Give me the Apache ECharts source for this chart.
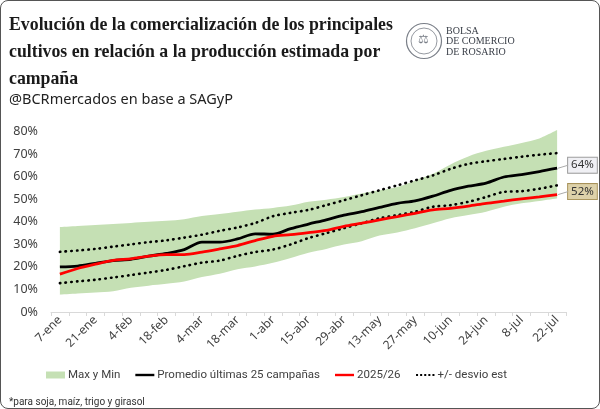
<!DOCTYPE html>
<html><head><meta charset="utf-8">
<script src="https://cdn.jsdelivr.net/npm/echarts@6/dist/echarts.min.js"></script>
<style>
html,body{margin:0;padding:0;background:#fff;}
#frame{position:absolute;left:0;top:0;width:598px;height:407px;border:1px solid #555;border-radius:8px;overflow:hidden;background:#fff;}
#c{width:598px;height:407px;}
</style></head>
<body><div id="frame"><div id="c"></div></div>
<script>
const categories = ['7-ene','14-ene','21-ene','28-ene','4-feb','11-feb','18-feb','25-feb','4-mar','11-mar','18-mar','25-mar','1-abr','8-abr','15-abr','22-abr','29-abr','6-may','13-may','20-may','27-may','3-jun','10-jun','17-jun','24-jun','1-jul','8-jul','15-jul','22-jul'];
const maxVals = [37.7,38.2,38.6,39,39.5,40,40.5,41.2,42.6,43.5,44.5,45.5,46.2,47.2,48.9,49.8,51,52.6,54,55.5,58.4,61.3,65.5,69,71.5,73.3,75,77,80.7];
const minVals = [7.7,8.2,8.7,9.2,10.8,11.7,12.5,13.5,15.5,17,19,20.2,21.8,24,26.3,28,29.9,31.4,33.9,35.3,37.2,39.4,41.6,43,44.5,46.7,48.2,49.3,50.4];
const meanVals = [20,20.4,21.6,22.8,23.4,24.8,26,27.7,31,31,32.4,34.7,34.5,37,39,40.9,43,44.5,46.4,48.2,49.3,51.4,54,55.8,57.2,59.9,61,62.3,63.8];
const currentVals = [16.8,19.3,21.2,22.9,23.6,24.8,25.5,25.5,26.6,28,29.5,31.7,33.6,34.3,35.2,36.2,38,39.4,40.9,42.3,43.8,45.3,46,47,48.2,49.2,50.2,51.1,52.1];
const upperVals = [26.7,27.3,28,29,30,31,31.8,33,34.3,36,37.5,39.5,42.5,44,45.3,47.4,49.6,51.8,54,56.2,58.4,60.6,63.5,65.7,66.9,67.9,68.9,69.8,70.5];
const lowerVals = [12.8,13.6,14.3,15.3,16.4,17.5,18.7,20.3,21.9,22.8,24.9,26.6,27.7,30,32.8,35,37.2,39.4,41.6,43,44.5,46.7,47.4,48.9,51,53.3,53.6,54.7,56.2];
const yTicks = {min:0, max:80, interval:10};

const bandDiff = maxVals.map((v,i)=> +(v - minVals[i]).toFixed(2));
const lastIdx = categories.length - 1;
function endLab(bg, border){
  return {show:true, distance:11, offset:[0,-3], formatter: p => Math.round(p.value)+'%',
    backgroundColor:bg, borderColor:border, borderWidth:1, padding:[2,3,1,3],
    color:'#333', fontSize:11.5, fontFamily:'Noto Sans'};
}
// legend icons: bounding box 19x7 (set by the two moveTo points), drawn shape in the middle
const solidIcon = 'path://M0,0M19,7M0,2.3H19V4.7H0Z';
const dotIcon = 'path://M0,0M19,7M0.5,2.5h2v2h-2zM4.6,2.5h2v2h-2zM8.7,2.5h2v2h-2zM12.8,2.5h2v2h-2zM16.9,2.5h2v2h-2z';
const chart = echarts.init(document.getElementById('c'));
const dotStyle = {color:'#000', width:2.6, type:[0.5,5.2], cap:'round'};
chart.setOption({
  animation:false,
  title:[{
    text:'Evolución de la comercialización de los principales\ncultivos en relación a la producción estimada por\ncampaña',
    left:3, top:6,
    textStyle:{fontFamily:'Liberation Serif', fontWeight:'bold', fontSize:17.8, lineHeight:27, color:'#1a1a1a'}
  },{
    text:'@BCRmercados en base a SAGyP', left:3, top:86,
    textStyle:{fontFamily:'Noto Sans', fontWeight:'normal', fontSize:14.5, color:'#222'}
  },{
    text:'*para soja, maíz, trigo y girasol', left:3, top:391,
    textStyle:{fontFamily:'Roboto', fontWeight:'normal', fontSize:10, color:'#333'}
  }],
  graphic:[
    {type:'circle', shape:{cx:423, cy:40, r:17.5}, style:{fill:'#fff', stroke:'#7a7f88', lineWidth:1.2}},
    {type:'circle', shape:{cx:423, cy:40, r:13}, style:{fill:'none', stroke:'#7a7f88', lineWidth:0.8}},
    {type:'text', left:417, top:33, style:{text:'⚖', fill:'#7a7f88', font:'12px DejaVu Sans'}},
    {type:'text', left:445, top:25, style:{text:'BOLSA\nDE COMERCIO\nDE ROSARIO', fill:'#3a3f48', font:'10px Liberation Serif', lineHeight:10.5}}
  ],
  grid:{left:50, right:33, top:130.7, bottom:96, containLabel:false},
  legend:{
    bottom:22, left:40, itemGap:15, itemWidth:19, itemHeight:7,
    textStyle:{fontFamily:'Roboto', fontSize:11.5, color:'#404040', padding:[0,0,0,-2]},
    data:[
      {name:'Max y Min', icon:'rect', itemStyle:{color:'#c5e0b4'}},
      {name:'Promedio últimas 25 campañas', icon:solidIcon, itemStyle:{color:'#000'}},
      {name:'2025/26', icon:solidIcon, itemStyle:{color:'#ff0000'}},
      {name:'+/- desvio est', icon:dotIcon, itemStyle:{color:'#000'}}
    ]
  },
  xAxis:{
    type:'category', data:categories, boundaryGap:true,
    axisLine:{lineStyle:{color:'#d9d9d9', width:1}},
    axisTick:{show:true, interval:0, length:4, lineStyle:{color:'#d9d9d9'}},
    axisLabel:{interval:1, rotate:45, color:'#404040', fontFamily:'Noto Sans', fontSize:12, margin:6}
  },
  yAxis:{
    type:'value', min:yTicks.min, max:yTicks.max, interval:yTicks.interval,
    splitLine:{show:false}, axisLine:{show:false}, axisTick:{show:false},
    axisLabel:{formatter:'{value}%', color:'#404040', fontFamily:'Noto Sans', fontSize:12.5, margin:13}
  },
  series:[
    {name:'base', type:'line', stack:'band', data:minVals, symbol:'none', lineStyle:{opacity:0}, silent:true, smooth:0.3, clip:false},
    {name:'Max y Min', type:'line', stack:'band', data:bandDiff, symbol:'none', lineStyle:{opacity:0},
      areaStyle:{color:'#c5e0b4', opacity:1}, itemStyle:{color:'#c5e0b4'}, smooth:0.3, clip:false},
    {name:'+/- desvio est', type:'line', data:upperVals, symbol:'none', lineStyle:dotStyle, itemStyle:{color:'#000'}, smooth:0.3},
    {name:'+/- desvio est', type:'line', data:lowerVals, symbol:'none', lineStyle:dotStyle, itemStyle:{color:'#000'}, smooth:0.3},
    {name:'Promedio últimas 25 campañas', type:'line', data:meanVals, symbol:'none',
      lineStyle:{color:'#000', width:2.8}, itemStyle:{color:'#000'}, smooth:0.3,
      endLabel:endLab('#f0f0f4','#9a9a9a')},
    {name:'2025/26', type:'line', data:currentVals, symbol:'none',
      lineStyle:{color:'#ff0000', width:2.8}, itemStyle:{color:'#ff0000'}, smooth:0.3,
      endLabel:endLab('#ddd1a9','#a8925a')}
  ]
});
// leader lines from the last points to the end labels, positioned through the chart's own scales
const leaders = [[4, meanVals], [5, currentVals]].map(([si, vals]) => {
  const p = chart.convertToPixel({seriesIndex:si}, [lastIdx, vals[lastIdx]]);
  return {type:'line', shape:{x1:p[0]+1, y1:p[1], x2:p[0]+11, y2:p[1]-3}, style:{stroke:'#aaa', lineWidth:1}, z:10};
});
chart.setOption({graphic: chart.getOption().graphic[0].elements.concat(leaders)});
</script></body></html>
